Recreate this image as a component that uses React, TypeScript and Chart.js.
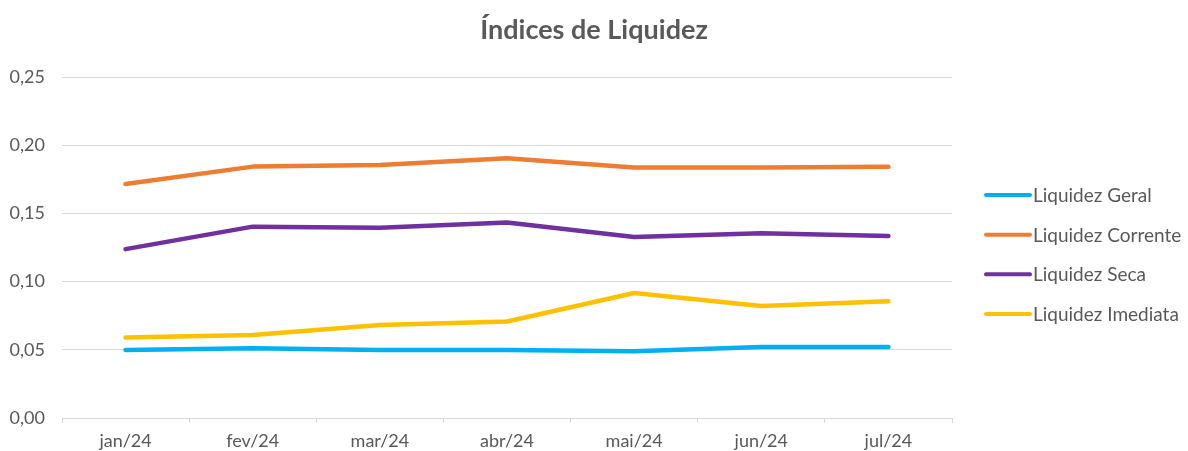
import React, { useEffect, useRef } from "react";
import { Chart, registerables } from "chart.js";

Chart.register(...registerables);

const categories = ["jan/24", "fev/24", "mar/24", "abr/24", "mai/24", "jun/24", "jul/24"];
const liquidezGeral = [0.0499, 0.0512, 0.0499, 0.0499, 0.049, 0.052, 0.052];
const liquidezCorrente = [0.1715, 0.1843, 0.1855, 0.1905, 0.1837, 0.1837, 0.1842];
const liquidezSeca = [0.1238, 0.1403, 0.1394, 0.1433, 0.1327, 0.1355, 0.1334];
const liquidezImediata = [0.0591, 0.0608, 0.0682, 0.0707, 0.0916, 0.0821, 0.0856];
const seriesNames = ["Liquidez Geral", "Liquidez Corrente", "Liquidez Seca", "Liquidez Imediata"];
const seriesColors = ["#00B0F0", "#ED7D31", "#7030A0", "#FFC000"];
const titleText = "Índices de Liquidez";

const FONT = "Lato, 'Open Sans', sans-serif";
const TEXT = "#595959";

const decorPlugin = {
  id: "decor",
  afterDraw(chart: any) {
    const ctx = chart.ctx;
    const area = chart.chartArea;
    const ds = chart.data.datasets;
    ctx.save();
    // title centered on the full canvas
    ctx.fillStyle = TEXT;
    ctx.font = `bold 27px ${FONT}`;
    ctx.textAlign = "center";
    ctx.textBaseline = "middle";
    ctx.fillText(titleText, chart.width / 2, 30);
    // side legend
    const midY = (area.top + area.bottom) / 2 + 7;
    const gap = 39.7;
    const startY = midY - (gap * (ds.length - 1)) / 2;
    const x0 = area.right + 34;
    ds.forEach((d: any, i: number) => {
      const y = startY + i * gap;
      ctx.strokeStyle = d.borderColor;
      ctx.lineWidth = 4;
      ctx.lineCap = "round";
      ctx.beginPath();
      ctx.moveTo(x0, y);
      ctx.lineTo(x0 + 44, y);
      ctx.stroke();
      ctx.fillStyle = TEXT;
      ctx.font = `19px ${FONT}`;
      ctx.textBaseline = "middle";
      ctx.textAlign = "left";
      ctx.fillText(d.label, x0 + 47, y + 1);
    });
    ctx.restore();
  },
};

export default function App() {
  const ref = useRef<HTMLCanvasElement>(null);
  useEffect(() => {
    document.body.style.margin = "0";
    const values = [liquidezGeral, liquidezCorrente, liquidezSeca, liquidezImediata];
    const chart = new Chart(ref.current!, {
      type: "line",
      data: {
        labels: categories,
        datasets: values.map((v, i) => ({
          label: seriesNames[i],
          data: v,
          borderColor: seriesColors[i],
          backgroundColor: seriesColors[i],
          borderWidth: 4.5,
          pointRadius: 0,
          tension: 0,
          borderCapStyle: "round" as const,
          borderJoinStyle: "round" as const,
        })),
      },
      options: {
        animation: false,
        responsive: false,
        layout: { padding: { left: 0, right: 236, top: 77, bottom: 0 } },
        plugins: {
          legend: { display: false },
          tooltip: { enabled: false },
          title: { display: false },
        },
        scales: {
          x: {
            offset: true,
            grid: {
              offset: true,
              drawOnChartArea: false,
              drawTicks: true,
              tickLength: 5,
              color: "#d9d9d9",
            },
            border: { display: true, color: "#d9d9d9", width: 1 },
            ticks: {
              color: TEXT,
              font: { family: FONT, size: 18 },
              padding: 7,
              maxRotation: 0,
            },
            afterFit(scale: any) {
              scale.height = 33;
            },
          },
          y: {
            min: 0,
            max: 0.25,
            ticks: {
              stepSize: 0.05,
              color: TEXT,
              font: { family: FONT, size: 18 },
              padding: 17,
              callback: (v: any) => Number(v).toFixed(2).replace(".", ","),
            },
            grid: { color: "#d9d9d9", drawTicks: false, lineWidth: 1 },
            border: { display: false },
            afterFit(scale: any) {
              scale.width = 62;
            },
          },
        },
      },
      plugins: [decorPlugin],
    });
    return () => chart.destroy();
  }, []);
  return (
    <div style={{ width: 1188, height: 451, background: "#fff" }}>
      <canvas ref={ref} width={1188} height={451} style={{ display: "block" }} />
    </div>
  );
}
